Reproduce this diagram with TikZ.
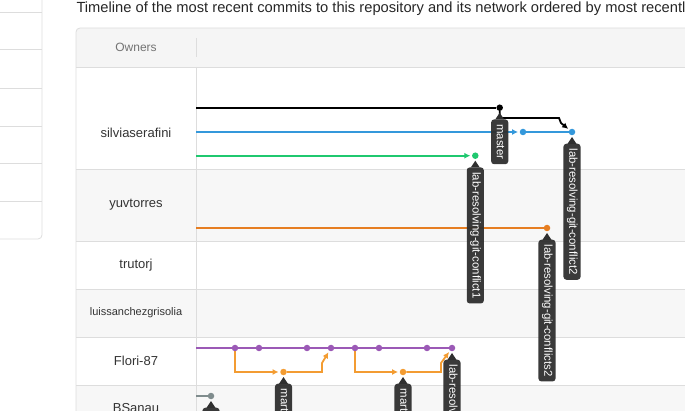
\documentclass[tikz,border=0pt]{standalone}
\usepackage{tikz}
\usepackage{xcolor}
\usepackage{fontspec}
\setmainfont{Liberation Sans}
\usetikzlibrary{arrows,arrows.meta,calc,positioning}

\definecolor{gridline}{HTML}{DDDDDD}
\definecolor{rowshade}{HTML}{F7F7F7}
\definecolor{headshade}{HTML}{F5F5F5}
\definecolor{tagdark}{HTML}{2F2F2F}
\definecolor{bluec}{HTML}{3498DB}
\definecolor{greenc}{HTML}{1FC86F}
\definecolor{orangec}{HTML}{E67E22}
\definecolor{purplec}{HTML}{9B59B6}
\definecolor{floric}{HTML}{F39C32}
\definecolor{grayc}{HTML}{7F8C8D}

\pgfdeclarelayer{front}
\pgfsetlayers{main,front}

\begin{document}
\begin{tikzpicture}[x=1pt,y=-1pt,
    dot/.style={circle,inner sep=0pt,minimum size=6.5pt},
    branch/.style={line width=1.8pt},
    tip/.style={-{Latex[length=6pt,width=6pt]},shorten >=1.5pt},
    grid/.style={gridline,line width=0.8pt},
    owner/.style={text=black!80,font=\fontsize{13}{15}\selectfont},
    tag/.style={fill=tagdark,fill opacity=0.95,text opacity=1,text=white,rounded corners=3pt,rotate=-90,anchor=west,
        inner xsep=5pt,inner ysep=3.3pt,text height=8pt,text depth=2.5pt,font=\fontsize{11.4}{13}\selectfont}]

    \useasboundingbox (0,0) rectangle (685,411);
    \clip (0,0) rectangle (685,411);

    \fill[rowshade] (76,169) rectangle (685,241);
    \fill[rowshade] (76,289) rectangle (685,337);
    \fill[rowshade] (76,385) rectangle (685,411);
    \fill[headshade] (76,67) [rounded corners=4pt] |- (700,28) [sharp corners] -- (700,67) -- cycle;

    \draw[grid] (76,420) [rounded corners=4pt] |- (700,28);
    \foreach \y in {67,169,241,289,337,385}
        \draw[grid] (76,\y) -- (685,\y);
    \draw[grid] (196,67) -- (196,420);
    \draw[grid] (196,38) -- (196,57);

    \foreach \y in {12,49,88,126,163,201}
        \draw[grid] (-5,\y) -- (42,\y);
    \draw[grid] (-5,239) [rounded corners=4pt] -| (42,-5);

    \node[anchor=west,text=black!85,font=\fontsize{14.7}{16}\selectfont] (title) at (73,8.5)
        {Timeline of the most recent commits to this repository and its network ordered by most recently pushed.};

    \node[text=black!55,font=\fontsize{12}{14}\selectfont] (owners) at (136,47) {Owners};
    \node[owner] (silviaserafini) at (136,132.5) {silviaserafini};
    \node[owner] (yuvtorres) at (136,204.5) {yuvtorres};
    \node[owner] (trutorj) at (136,265) {trutorj};
    \node[owner,font=\fontsize{11}{13}\selectfont] (luissanchezgrisolia) at (136,312.5) {luissanchezgrisolia};
    \node[owner] (flori87) at (136,360.5) {Flori-87};
    \node[owner] (bsanau) at (136,408.5) {BSanau};

    \coordinate (ks) at (196,107.7);
    \coordinate (bs) at (196,132);
    \coordinate (gs) at (196,155.7);
    \coordinate (os) at (196,228);
    \coordinate (ps) at (196,348);
    \coordinate (ss) at (196,396);

    \begin{pgfonlayer}{front}
    \node[dot,fill=black] (master) at (499.7,107.7) {};
    \node[dot,fill=bluec] (b1) at (523,132) {};
    \node[dot,fill=bluec] (conflict2) at (572,132) {};
    \node[dot,fill=greenc] (conflict1) at (475.3,155.7) {};
    \node[dot,fill=orangec] (conflicts2) at (547,228) {};
    \foreach \x [count=\i] in {235,259,307,331,355,379,427,452}
        \node[dot,fill=purplec] (p\i) at (\x,348) {};
    \node[dot,fill=floric] (o1) at (283.5,372) {};
    \node[dot,fill=floric] (o2) at (403,372) {};
    \node[dot,fill=grayc] (s1) at (211,396) {};

    \foreach \d/\t in {master/master,conflict1/lab-resolving-git-conflict1,conflict2/lab-resolving-git-conflict2,
        conflicts2/lab-resolving-git-conflicts2,o1/mart,o2/mart,p8/lab-resolv,s1/{}} {
        \fill[tagdark] ($(\d)+(0,5)$) -- ++(-4.5,6.8) -- ++(9,0) -- cycle;
        \node[tag] (tag-\d) at ($(\d)+(0,11.5)$) {\t};
    }
    \end{pgfonlayer}

    \draw[branch] (ks) -- (master);
    \draw[branch,tip] (master) |- (559,118) -- (561,123) -- (conflict2);
    \draw[branch,bluec,tip] (bs) -- (b1);
    \draw[branch,bluec] (b1) -- (conflict2);
    \draw[branch,greenc,tip] (gs) -- (conflict1);
    \draw[branch,orangec] (os) -- (conflicts2);

    \draw[branch,purplec] (ps) -- (p8);
    \draw[branch,floric,tip] (p1) |- (o1);
    \draw[branch,floric,tip] (o1) -- ++(38.5,0) -- ++(0,-9) -- (p4);
    \draw[branch,floric,tip] (p5) |- (o2);
    \draw[branch,floric,tip] (o2) -- ++(38,0) -- ++(0,-9) -- (p8);

    \draw[branch,grayc] (ss) -- (s1);
\end{tikzpicture}
\end{document}
